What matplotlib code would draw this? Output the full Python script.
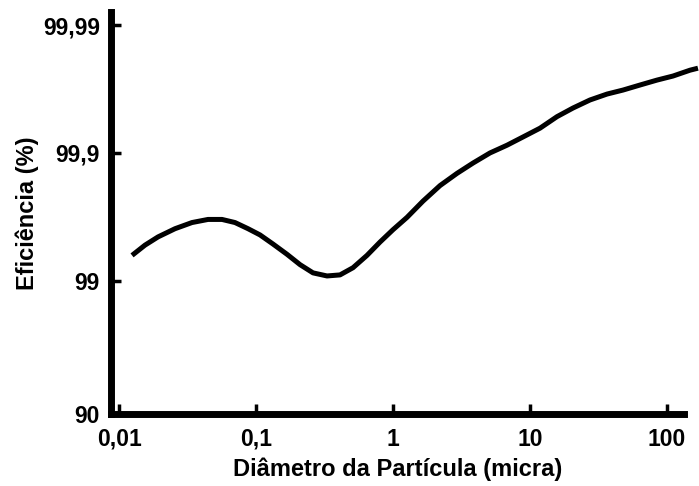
import numpy as np
import matplotlib.pyplot as plt

# dados: diametro (micra) e eficiencia (%)
diametro = [0.01245, 0.01548, 0.01927, 0.02563, 0.0341, 0.04463, 0.05646, 0.07026,
            0.08746, 0.1069, 0.1331, 0.1684, 0.2096, 0.2607, 0.3299, 0.4103, 0.5105,
            0.6458, 0.8037, 1.0, 1.265, 1.656, 2.204, 2.931, 3.836, 5.105, 6.794,
            8.89, 11.83, 15.74, 20.6, 27.4, 36.5, 47.7, 63.5, 84.5, 110.6, 147.2, 168.3]
eficiencia = [99.369, 99.475, 99.547, 99.609, 99.650, 99.669, 99.669, 99.650,
              99.609, 99.563, 99.485, 99.381, 99.255, 99.137, 99.088, 99.105, 99.213,
              99.369, 99.503, 99.602, 99.681, 99.762, 99.820, 99.8555, 99.880, 99.900, 99.913,
              99.925, 99.936, 99.948, 99.9555, 99.9615, 99.9654, 99.9678, 99.9706, 99.9731,
              99.975, 99.9775, 99.9783]

xticks = [0.01, 0.1, 1, 10, 100]
xlabels = ['0,01', '0,1', '1', '10', '100']
yticks = [90, 99, 99.9, 99.99]
ylabels = ['90', '99', '99,9', '99,99']


def logit(y):
    y = np.asarray(y, dtype=float)
    y = np.clip(y, 1e-6, 100 - 1e-9)
    return np.log10(y / (100 - y))


def inv_logit(v):
    v = np.asarray(v, dtype=float)
    return 100 * 10**v / (1 + 10**v)


plt.rcParams['font.family'] = ['Liberation Sans', 'DejaVu Sans']

fig = plt.figure(figsize=(6.99, 4.86), dpi=100)
ax = fig.add_axes([0.1588, 0.148, 0.8197, 0.827])

ax.plot(diametro, eficiencia, color='black', linewidth=3.6, clip_on=False,
        solid_capstyle='butt', solid_joinstyle='round')

ax.set_xscale('log')
ax.set_yscale('function', functions=(logit, inv_logit))
ax.set_xlim(0.00874, 133)
ax.set_ylim(90, 99.9921)

ax.set_xticks(xticks)
ax.set_xticklabels(xlabels)
ax.set_yticks(yticks)
ax.set_yticklabels(ylabels)
ax.minorticks_off()

for lab in ax.get_xticklabels() + ax.get_yticklabels():
    lab.set_fontweight('bold')

ax.tick_params(direction='in', length=7, width=2.5, labelsize=16.5)
ax.tick_params(axis='x', pad=10)
ax.tick_params(axis='y', pad=8)

for s in ['top', 'right']:
    ax.spines[s].set_visible(False)
for s in ['left', 'bottom']:
    ax.spines[s].set_linewidth(5)

ax.set_xlabel('Diâmetro da Partícula (micra)', fontsize=17, fontweight='bold', labelpad=5)
ax.set_ylabel('Eficiência (%)', fontsize=17, fontweight='bold', labelpad=3)

fig.savefig('out.png', dpi=100)
